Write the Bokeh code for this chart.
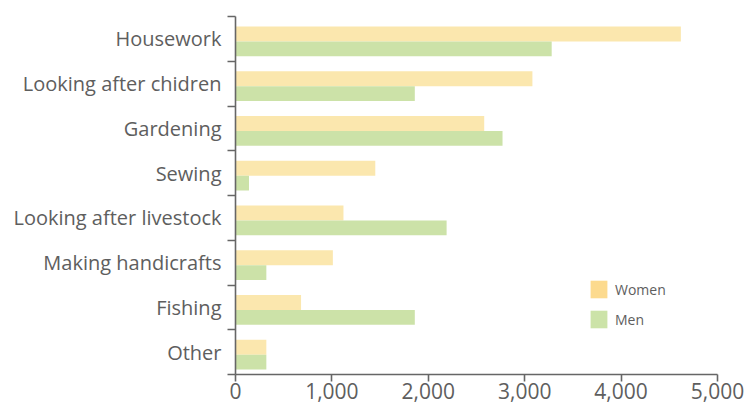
from bokeh.plotting import figure
from bokeh.models import FixedTicker, Range1d, Legend, LegendItem, ColumnDataSource, NumeralTickFormatter
from bokeh.embed import file_html
from bokeh.resources import INLINE

categories = ["Housework", "Looking after chidren", "Gardening", "Sewing",
              "Looking after livestock", "Making handicrafts", "Fishing", "Other"]
women = [4620, 3080, 2580, 1450, 1120, 1010, 680, 320]
men = [3280, 1860, 2770, 140, 2190, 320, 1860, 320]
x_ticks = [0, 1000, 2000, 3000, 4000, 5000]

series_names = ["Women", "Men"]
bar_colors = ["#FBE7AE", "#CCE2A8"]
swatch_colors = ["#FCDA8E", "#CCE3A8"]

n = len(categories)
centers = [n - 0.5 - i for i in range(n)]
boundaries = list(range(n + 1))
BAR_H = 0.33
y_women = [c + 0.109 for c in centers]
y_men = [c - 0.221 for c in centers]

FONT = "Open Sans"
TXT = "#5e5e5e"
AX = "#666666"

p = figure(width=750, height=410, output_backend="svg", toolbar_location=None,
           x_range=Range1d(0, 5000), y_range=Range1d(0, n),
           min_border_left=235, min_border_right=33, min_border_top=16, min_border_bottom=36)
p.outline_line_color = None
p.xgrid.visible = False
p.ygrid.visible = False

src_w = ColumnDataSource(dict(y=y_women, right=women))
src_m = ColumnDataSource(dict(y=y_men, right=men))
p.hbar(y="y", right="right", left=0, height=BAR_H, source=src_w,
       fill_color=bar_colors[0], line_color=None)
p.hbar(y="y", right="right", left=0, height=BAR_H, source=src_m,
       fill_color=bar_colors[1], line_color=None)

# legend swatch renderers (zero-width bars, invisible on the plot)
rw = p.hbar(y=y_women[:1], right=[0], left=0, height=BAR_H, fill_color=swatch_colors[0], line_color=None)
rm = p.hbar(y=y_men[:1], right=[0], left=0, height=BAR_H, fill_color=swatch_colors[1], line_color=None)

legend = Legend(items=[LegendItem(label=series_names[0], renderers=[rw], index=0),
                       LegendItem(label=series_names[1], renderers=[rm], index=0)],
                location=(353, 44), orientation="vertical")
legend.glyph_width = 21
legend.glyph_height = 22
legend.spacing = 8
legend.padding = 0
legend.margin = 0
legend.label_standoff = 6
legend.label_text_font = FONT
legend.label_text_font_size = "14px"
legend.label_text_color = TXT
legend.label_height = 22
legend.border_line_color = None
legend.background_fill_alpha = 0
p.add_layout(legend)

# x axis
xa = p.xaxis[0]
xa.ticker = FixedTicker(ticks=x_ticks)
xa.formatter = NumeralTickFormatter(format="0,0")
xa.axis_line_color = AX
xa.axis_line_width = 1.6
xa.major_tick_line_color = AX
xa.major_tick_line_width = 1.6
xa.major_tick_in = 0
xa.major_tick_out = 7
xa.minor_tick_line_color = None
xa.major_label_standoff = 1
xa.major_label_text_font = FONT
xa.major_label_text_font_size = "21px"
xa.major_label_text_color = TXT

# y axis: labels at centers, ticks at boundaries
ya = p.yaxis[0]
ya.ticker = FixedTicker(ticks=centers, minor_ticks=boundaries)
ya.major_label_overrides = {c: name for c, name in zip(centers, categories)}
ya.axis_line_color = AX
ya.axis_line_width = 1.6
ya.major_tick_line_color = None
ya.major_tick_in = 0
ya.major_tick_out = 0
ya.minor_tick_line_color = AX
ya.minor_tick_line_width = 1.6
ya.minor_tick_in = 0
ya.minor_tick_out = 8
ya.major_label_standoff = 6
ya.major_label_text_font = FONT
ya.major_label_text_font_size = "20px"
ya.major_label_text_color = TXT

open("out.html", "w").write(file_html(p, INLINE))
